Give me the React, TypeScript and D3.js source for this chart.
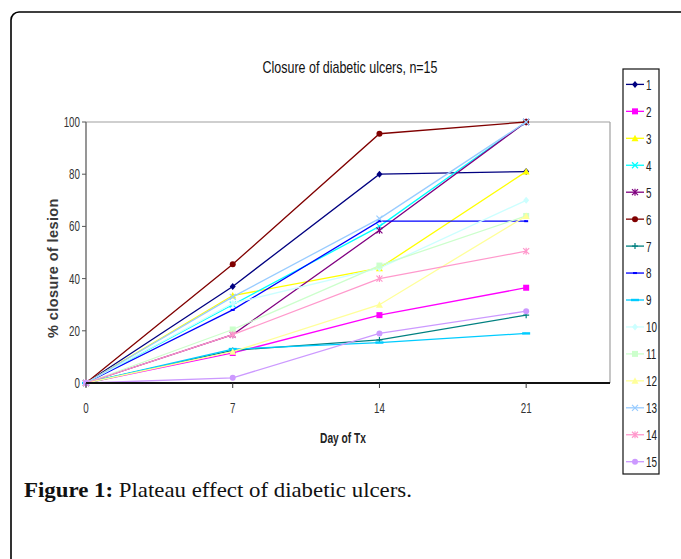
import React from "react";
import * as d3 from "d3";

const days = [0, 7, 14, 21];
const seriesNames = ["1", "2", "3", "4", "5", "6", "7", "8", "9", "10", "11", "12", "13", "14", "15"];
const s1 = [0, 37, 80, 81];
const s2 = [0, 11.5, 26, 36.5];
const s3 = [0, 33.5, 44, 81];
const s4 = [0, 30, 60, 100];
const s5 = [0, 18.5, 58.5, 100];
const s6 = [0, 45.5, 95.5, 100];
const s7 = [0, 12.5, 16.5, 26];
const s8 = [0, 28, 62, 62];
const s9 = [0, 13, 15.5, 19];
const s10 = [0, 30.5, 44, 70];
const s11 = [0, 20.5, 45, 64];
const s12 = [0, 12, 30, 64];
const s13 = [0, 33, 63, 100];
const s14 = [0, 18.5, 40, 50.5];
const s15 = [0, 2, 19, 27.5];
const seriesValues = [s1, s2, s3, s4, s5, s6, s7, s8, s9, s10, s11, s12, s13, s14, s15];
const seriesColors = [
  "#000080", "#FF00FF", "#FFFF00", "#00FFFF", "#800080",
  "#800000", "#008080", "#0000FF", "#00CCFF", "#CCFFFF",
  "#CCFFCC", "#FFFF99", "#99CCFF", "#FF99CC", "#CC99FF",
];
const seriesMarkers = [
  "diamond", "square", "triangle", "x", "star",
  "circle", "plus", "dash", "longdash", "diamond",
  "square", "triangle", "x", "star", "circle",
];
const xTicks = [0, 7, 14, 21];
const yTicks = [0, 20, 40, 60, 80, 100];

const SANS = "'Liberation Sans', Arial, sans-serif";

function NText({
  x, y, anchor = "start", size, weight = "normal", fill = "#222", sx = 0.8, children, dy,
}: {
  x: number; y: number; anchor?: string; size: number; weight?: string; fill?: string; sx?: number; children: any; dy?: string;
}) {
  return (
    <text
      transform={`translate(${x},${y}) scale(${sx},1)`}
      textAnchor={anchor as any}
      fontFamily={SANS}
      fontSize={size}
      fontWeight={weight}
      fill={fill}
      dy={dy}
    >
      {children}
    </text>
  );
}

function Marker({ type, cx, cy, color }: { type: string; cx: number; cy: number; color: string }) {
  const s = 3;
  switch (type) {
    case "diamond":
      return <path d={`M${cx},${cy - s - 0.5}L${cx + s},${cy}L${cx},${cy + s + 0.5}L${cx - s},${cy}Z`} fill={color} />;
    case "square":
      return <rect x={cx - s} y={cy - s} width={2 * s} height={2 * s} fill={color} />;
    case "triangle":
      return <path d={`M${cx},${cy - s - 0.5}L${cx + s + 0.5},${cy + s}L${cx - s - 0.5},${cy + s}Z`} fill={color} />;
    case "x":
      return <path d={`M${cx - s},${cy - s}L${cx + s},${cy + s}M${cx - s},${cy + s}L${cx + s},${cy - s}`} stroke={color} strokeWidth={1.2} />;
    case "star":
      return <path d={`M${cx - s},${cy - s}L${cx + s},${cy + s}M${cx - s},${cy + s}L${cx + s},${cy - s}M${cx},${cy - s - 0.5}L${cx},${cy + s + 0.5}`} stroke={color} strokeWidth={1.2} />;
    case "circle":
      return <circle cx={cx} cy={cy} r={s} fill={color} />;
    case "plus":
      return <path d={`M${cx - s},${cy}L${cx + s},${cy}M${cx},${cy - s}L${cx},${cy + s}`} stroke={color} strokeWidth={1.2} />;
    case "dash":
      return <rect x={cx - 2} y={cy - 1} width={4} height={2} fill={color} />;
    case "longdash":
      return <rect x={cx - s - 1} y={cy - 1.2} width={2 * s + 2} height={2.4} fill={color} />;
    default:
      return null;
  }
}

export default function App() {
  const W = 681, H = 559;
  const x = d3.scaleLinear().domain([0, 25]).range([86, 610]);
  const y = d3.scaleLinear().domain([0, 100]).range([383, 122]);
  const line = d3.line<number>().x((_, i) => x(days[i])).y((v) => y(v));

  const legendX = 623, legendY = 69, legendW = 36, legendH = 405;
  const legendStart = 84.4, legendStep = 26.95;

  return (
    <svg width={W} height={H} style={{ position: "absolute", left: 0, top: 0, background: "#fff" }}>
      <rect x={0} y={0} width={W} height={H} fill="#fff" />
      {/* outer frame */}
      <rect x={11} y={12} width={720} height={620} rx={8} ry={8} fill="none" stroke="#000" strokeWidth={1.6} />

      {/* title */}
      <NText x={350} y={73} anchor="middle" size={16} fill="#111" sx={0.78}>
        Closure of diabetic ulcers, n=15
      </NText>

      {/* plot frame */}
      <line x1={x(0)} x2={x(25)} y1={y(100)} y2={y(100)} stroke="#a0a0a0" strokeWidth={1.2} />
      <line x1={x(25)} x2={x(25)} y1={y(100)} y2={y(0)} stroke="#a0a0a0" strokeWidth={1.2} />
      <line x1={x(0)} x2={x(0)} y1={y(100)} y2={y(0)} stroke="#6a6a6a" strokeWidth={1.4} />

      {/* y ticks */}
      {yTicks.map((t) => (
        <g key={"y" + t}>
          <line x1={x(0) - 4} x2={x(0)} y1={y(t)} y2={y(t)} stroke="#555" strokeWidth={1} />
          <NText x={x(0) - 6} y={y(t)} dy="0.35em" anchor="end" size={14} fill="#333" sx={0.7}>
            {t}
          </NText>
        </g>
      ))}

      {/* series */}
      {seriesValues.map((vals, si) => (
        <g key={"s" + si}>
          <path d={line(vals) || ""} fill="none" stroke={seriesColors[si]} strokeWidth={1.3} />
          {vals.map((v, i) => (
            <Marker key={i} type={seriesMarkers[si]} cx={x(days[i])} cy={y(v)} color={seriesColors[si]} />
          ))}
        </g>
      ))}

      {/* x axis */}
      <line x1={x(0)} x2={x(25)} y1={y(0)} y2={y(0)} stroke="#111" strokeWidth={1.8} />
      {xTicks.map((t) => (
        <g key={"x" + t}>
          <line x1={x(t)} x2={x(t)} y1={y(0)} y2={y(0) + 5} stroke="#333" strokeWidth={1} />
          <NText x={x(t)} y={413} anchor="middle" size={14} fill="#333" sx={0.7}>
            {t}
          </NText>
        </g>
      ))}

      {/* axis titles */}
      <NText x={343} y={443} anchor="middle" size={15} weight="bold" fill="#222" sx={0.68}>
        Day of Tx
      </NText>
      <text
        transform={`translate(58,268) rotate(-90)`}
        textAnchor="middle"
        fontFamily={SANS}
        fontWeight="bold"
        fontSize={14.5}
        letterSpacing={0.4}
        fill="#3a3a3a"
      >
        % closure of lesion
      </text>

      {/* legend */}
      <rect x={legendX} y={legendY} width={legendW} height={legendH} fill="#fff" stroke="#111" strokeWidth={1.2} />
      {seriesNames.map((name, i) => {
        const ly = legendStart + i * legendStep;
        return (
          <g key={"l" + i}>
            <line x1={626} x2={644} y1={ly} y2={ly} stroke={seriesColors[i]} strokeWidth={1.3} />
            <Marker type={seriesMarkers[i]} cx={635} cy={ly} color={seriesColors[i]} />
            <NText x={646} y={ly} dy="0.36em" size={15} fill="#222" sx={0.66}>
              {name}
            </NText>
          </g>
        );
      })}

      {/* caption */}
      <text
        x={24}
        y={497}
        fontFamily="'Liberation Serif', 'Times New Roman', serif"
        fontSize={21}
        fill="#111"
        textLength={388}
        lengthAdjust="spacingAndGlyphs"
      >
        <tspan fontWeight="bold">Figure 1:</tspan>
        <tspan> Plateau effect of diabetic ulcers.</tspan>
      </text>
    </svg>
  );
}
